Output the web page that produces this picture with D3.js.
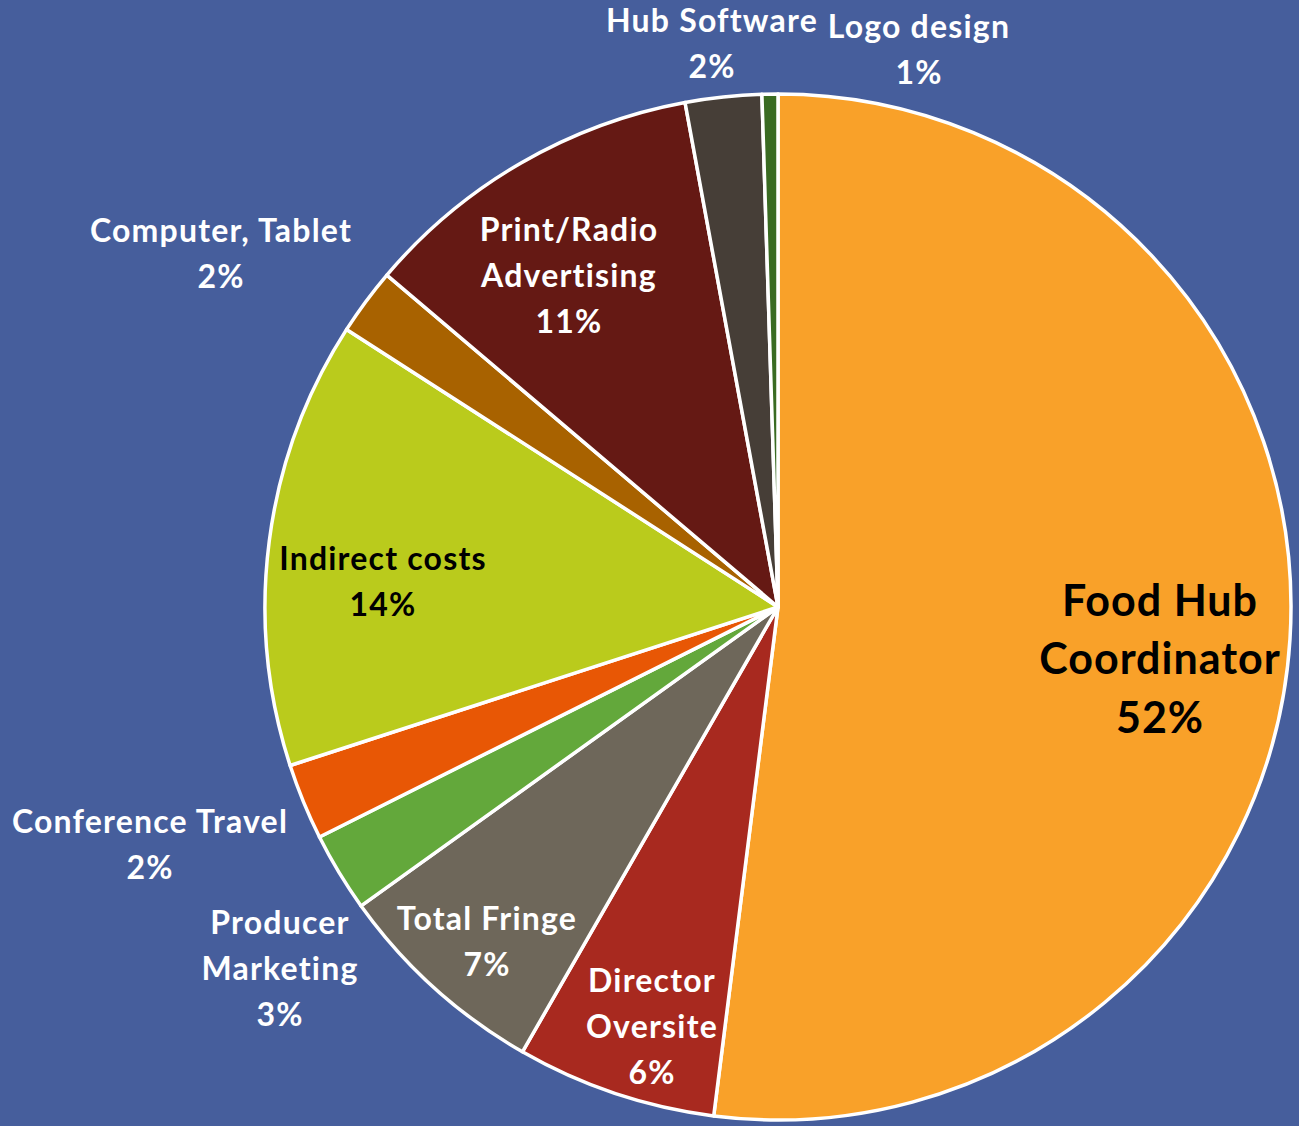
<!DOCTYPE html>
<html>
<head>
<meta charset="utf-8">
<script src="https://cdn.jsdelivr.net/npm/d3@7"></script>
<style>
html,body{margin:0;padding:0;background:#465E9C;}
svg{display:block;}
text{font-variant-ligatures:none;font-feature-settings:"liga" 0;}
</style>
</head>
<body>
<svg id="chart" width="1299" height="1126"></svg>
<script>
// ---- data ----
const categories = ["Food Hub Coordinator","Director Oversite","Total Fringe","Producer Marketing","Conference Travel","Indirect costs","Computer, Tablet","Print/Radio Advertising","Hub Software","Logo design"];
const values = [52.0, 6.3, 6.8, 2.5, 2.4, 14.1, 2.1, 10.9, 2.4, 0.5];
const labelLines = [["Food Hub","Coordinator"],["Director","Oversite"],["Total Fringe"],["Producer","Marketing"],["Conference Travel"],["Indirect costs"],["Computer, Tablet"],["Print/Radio","Advertising"],["Hub Software"],["Logo design"]];
const colors = ["#F9A129","#A8291F","#6E675A","#63A83B","#E85705","#BACB1C","#A86200","#651914","#463E37","#3A6B22"];

// ---- layout (label centres relative to pie centre, text style) ----
const cx = 778, cy = 607, R = 513;
const labelOffset = [[382,52],[-126,420],[-291,335],[-498,362],[-628,238],[-395,-25],[-557,-353],[-209,-331],[-66,-563],[141,-557]];
const labelFill = ["#000","#fff","#fff","#fff","#fff","#000","#fff","#fff","#fff","#fff"];
const labelSize = [43,32,32,32,32,32,32,32,32,32];
const labelSpacing = [1,1.2,1.2,1.2,1.2,1.2,1.2,1.2,1.2,1.2];
const lineGap = [58.5,46,46,46,46,46,46,46,46,46];

const svg = d3.select("#chart");
const data = categories.map((c,i)=>({name:c, value:values[i], i}));
const pie = d3.pie().value(d=>d.value).sort(null);
const arc = d3.arc().innerRadius(0).outerRadius(R);
const arcs = pie(data);

const g = svg.append("g").attr("transform",`translate(${cx},${cy})`);
g.selectAll("path.slice").data(arcs).join("path")
  .attr("class","slice")
  .attr("d",arc)
  .attr("fill",d=>colors[d.data.i])
  .attr("stroke","#fff")
  .attr("stroke-width",3.5)
  .attr("stroke-linejoin","round");

const fmt = v => Math.round(v) + "%";
const lab = g.selectAll("text.lbl").data(arcs).join("text")
  .attr("class","lbl")
  .attr("font-family","Lato, 'Open Sans', sans-serif")
  .attr("font-weight","bold")
  .attr("text-anchor","middle")
  .attr("font-size",d=>labelSize[d.data.i])
  .attr("letter-spacing",d=>labelSpacing[d.data.i])
  .attr("fill",d=>labelFill[d.data.i]);
lab.each(function(d){
  const i = d.data.i;
  const lines = labelLines[i].concat([fmt(d.data.value)]);
  const n = lines.length, gap = lineGap[i], fs = labelSize[i];
  const [ox, oy] = labelOffset[i];
  const t = d3.select(this);
  lines.forEach((ln,k)=>{
    t.append("tspan")
      .attr("x",ox)
      .attr("y",oy + (k-(n-1)/2)*gap + fs*0.35)
      .text(ln);
  });
});
</script>
</body>
</html>
